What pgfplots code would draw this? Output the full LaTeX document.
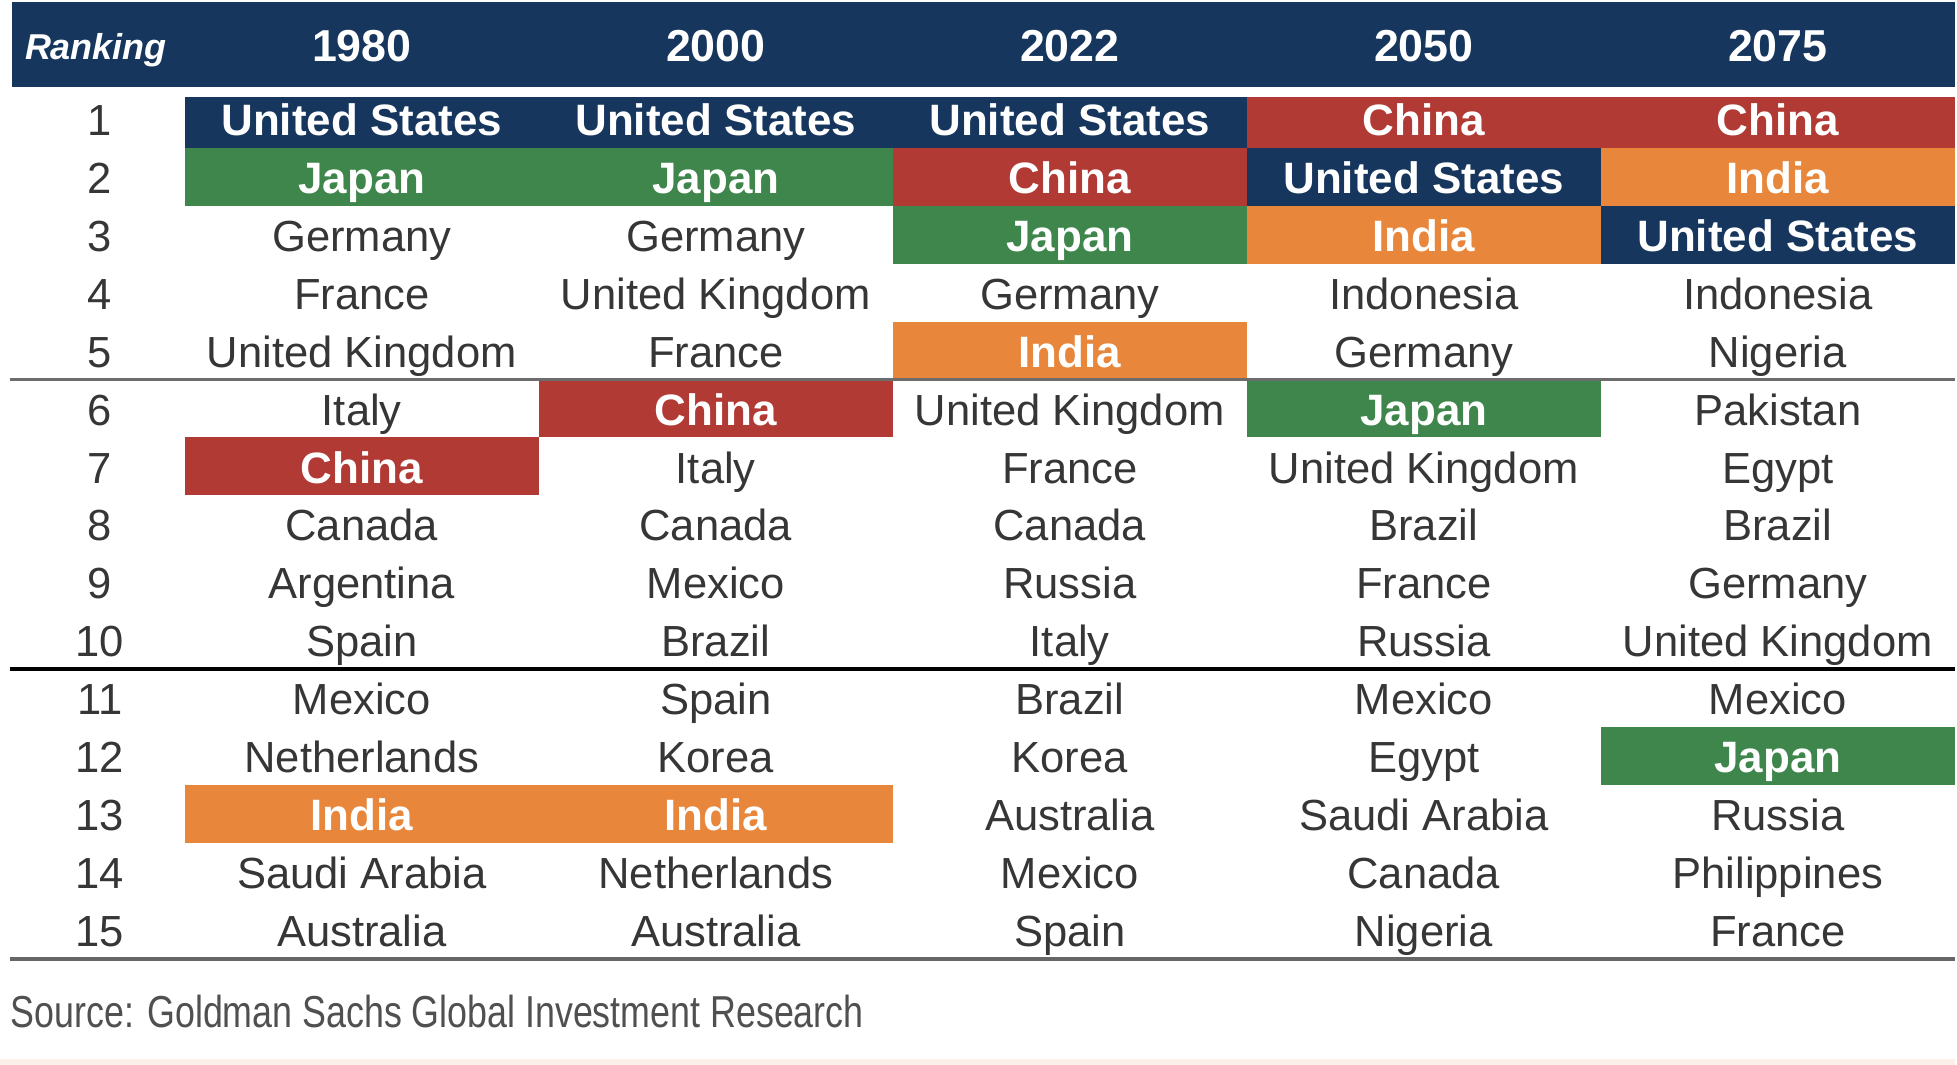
\documentclass[border=0pt]{standalone}
\usepackage{pgfplots}
\pgfplotsset{compat=1.18}
\usepackage{pgfplotstable}
\usepackage{fontspec}
\setmainfont{Liberation Sans}
\newfontfamily\srcfont[FakeStretch=0.80]{Liberation Sans}
\definecolor{navy}{HTML}{16365D}
\definecolor{cred}{HTML}{B13A34}
\definecolor{cgreen}{HTML}{3E864C}
\definecolor{corange}{HTML}{E8863C}
\definecolor{txt}{HTML}{363636}
\definecolor{srcgray}{HTML}{505050}
\definecolor{pinkstrip}{HTML}{FBEFE9}

% ordinary cells: column index (0=1980 ... 4=2075), rank, country
\pgfplotstableread[col sep=comma]{
c,r,name
0,3,Germany
0,4,France
0,5,United Kingdom
0,6,Italy
0,8,Canada
0,9,Argentina
0,10,Spain
0,11,Mexico
0,12,Netherlands
0,14,Saudi Arabia
0,15,Australia
1,3,Germany
1,4,United Kingdom
1,5,France
1,7,Italy
1,8,Canada
1,9,Mexico
1,10,Brazil
1,11,Spain
1,12,Korea
1,14,Netherlands
1,15,Australia
2,4,Germany
2,6,United Kingdom
2,7,France
2,8,Canada
2,9,Russia
2,10,Italy
2,11,Brazil
2,12,Korea
2,13,Australia
2,14,Mexico
2,15,Spain
3,4,Indonesia
3,5,Germany
3,7,United Kingdom
3,8,Brazil
3,9,France
3,10,Russia
3,11,Mexico
3,12,Egypt
3,13,Saudi Arabia
3,14,Canada
3,15,Nigeria
4,4,Indonesia
4,5,Nigeria
4,6,Pakistan
4,7,Egypt
4,8,Brazil
4,9,Germany
4,10,United Kingdom
4,11,Mexico
4,13,Russia
4,14,Philippines
4,15,France
}\normaltab

% highlighted cells
\pgfplotstableread[col sep=comma]{
c,r,name
0,1,United States
1,1,United States
2,1,United States
3,2,United States
4,3,United States
0,7,China
1,6,China
2,2,China
3,1,China
4,1,China
0,2,Japan
1,2,Japan
2,3,Japan
3,6,Japan
4,12,Japan
0,13,India
1,13,India
2,5,India
3,3,India
4,2,India
}\hltab

\pgfplotstableread[col sep=comma]{
c,r,name
-0.74,1,1
-0.74,2,2
-0.74,3,3
-0.74,4,4
-0.74,5,5
-0.74,6,6
-0.74,7,7
-0.74,8,8
-0.74,9,9
-0.74,10,10
-0.74,11,11
-0.74,12,12
-0.74,13,13
-0.74,14,14
-0.74,15,15
}\ranktab

% \cellbox{color}{xleft}{xright}{ytop}{ybottom}
\newcommand\cellbox[5]{\addplot[fill=#1,draw=none] coordinates {(#2,#4) (#3,#4) (#3,#5) (#2,#5)} -- cycle;}

\begin{document}
\begin{tikzpicture}
\begin{axis}[
  scale only axis,
  width=489.25pt, height=266.5pt,
  xmin=-1.022, xmax=4.5,
  ymin=-1.0517, ymax=17.328,
  y dir=reverse,
  hide axis,
  clip=false,
]
% background
\addplot[fill=white,draw=none] coordinates {(-1.022,-1.0517) (4.5,-1.0517) (4.5,17.328) (-1.022,17.328)} -- cycle;
\addplot[fill=pinkstrip,draw=none] coordinates {(-1.022,17.22) (4.5,17.22) (4.5,17.328) (-1.022,17.328)} -- cycle;
% header band
\addplot[fill=navy,draw=none] coordinates {(-0.988,-1.017) (4.5,-1.017) (4.5,0.448) (-0.988,0.448)} -- cycle;

% highlighted cells: United States
\cellbox{navy}{-0.5}{0.5}{0.62}{1.5}
\cellbox{navy}{0.5}{1.5}{0.62}{1.5}
\cellbox{navy}{1.5}{2.5}{0.62}{1.5}
\cellbox{navy}{2.5}{3.5}{1.5}{2.5}
\cellbox{navy}{3.5}{4.5}{2.5}{3.5}
% China
\cellbox{cred}{-0.5}{0.5}{6.5}{7.5}
\cellbox{cred}{0.5}{1.5}{5.5}{6.5}
\cellbox{cred}{1.5}{2.5}{1.5}{2.5}
\cellbox{cred}{2.5}{3.5}{0.62}{1.5}
\cellbox{cred}{3.5}{4.5}{0.62}{1.5}
% Japan
\cellbox{cgreen}{-0.5}{0.5}{1.5}{2.5}
\cellbox{cgreen}{0.5}{1.5}{1.5}{2.5}
\cellbox{cgreen}{1.5}{2.5}{2.5}{3.5}
\cellbox{cgreen}{2.5}{3.5}{5.5}{6.5}
\cellbox{cgreen}{3.5}{4.5}{11.5}{12.5}
% India
\cellbox{corange}{-0.5}{0.5}{12.5}{13.5}
\cellbox{corange}{0.5}{1.5}{12.5}{13.5}
\cellbox{corange}{1.5}{2.5}{4.5}{5.5}
\cellbox{corange}{2.5}{3.5}{2.5}{3.5}
\cellbox{corange}{3.5}{4.5}{1.5}{2.5}

% separator lines
\addplot[draw=gray!85!black, line width=0.6pt] coordinates {(-0.994,5.5) (4.5,5.5)};
\addplot[draw=black, line width=1.1pt] coordinates {(-0.994,10.5) (4.5,10.5)};
\addplot[draw=gray!80!black, line width=1pt] coordinates {(-0.994,15.5) (4.5,15.5)};

% text of ordinary cells
\addplot[draw=none, mark=none, nodes near coords, point meta=explicit symbolic,
  nodes near coords align=center,
  every node near coord/.append style={anchor=center, inner sep=0pt, text=txt, yshift=-1.4pt,
    font=\fontsize{10.9}{12}\selectfont, text height=0.75em, text depth=0.2em}]
  table[x=c, y=r, meta=name] {\normaltab};
% text of highlighted cells
\addplot[draw=none, mark=none, nodes near coords, point meta=explicit symbolic,
  nodes near coords align=center,
  every node near coord/.append style={anchor=center, inner sep=0pt, text=white, yshift=-1.4pt,
    font=\fontsize{11}{12}\selectfont\bfseries, text height=0.75em, text depth=0.2em}]
  table[x=c, y=r, meta=name] {\hltab};
% ranking numbers
\addplot[draw=none, mark=none, nodes near coords, point meta=explicit symbolic,
  nodes near coords align=center,
  every node near coord/.append style={anchor=center, inner sep=0pt, text=txt, yshift=-1.4pt,
    font=\fontsize{10.9}{12}\selectfont, text height=0.75em, text depth=0.2em}]
  table[x=c, y=r, meta=name] {\ranktab};

% header text
\node[text=white, font=\fontsize{9}{10}\selectfont\bfseries\itshape, anchor=center, inner sep=0pt, text height=0.75em, text depth=0.2em, yshift=-0.6pt] at (axis cs:-0.751,-0.259) {Ranking};
\foreach \yr [count=\i from 0] in {1980,2000,2022,2050,2075}{
  \edef\tmp{\noexpand\node[text=white, font=\noexpand\fontsize{11.2}{12}\noexpand\selectfont\noexpand\bfseries, anchor=center, inner sep=0pt, text height=0.75em, text depth=0.2em, yshift=-1.1pt] at (axis cs:\i,-0.259) {\yr};}
  \tmp
}

% source
\node[anchor=west, inner sep=0pt, text=srcgray, font=\srcfont\fontsize{11.2}{12}\selectfont] at (axis cs:-0.994,16.41) {Source: Goldman Sachs Global Investment Research};
\end{axis}
\end{tikzpicture}
\end{document}
